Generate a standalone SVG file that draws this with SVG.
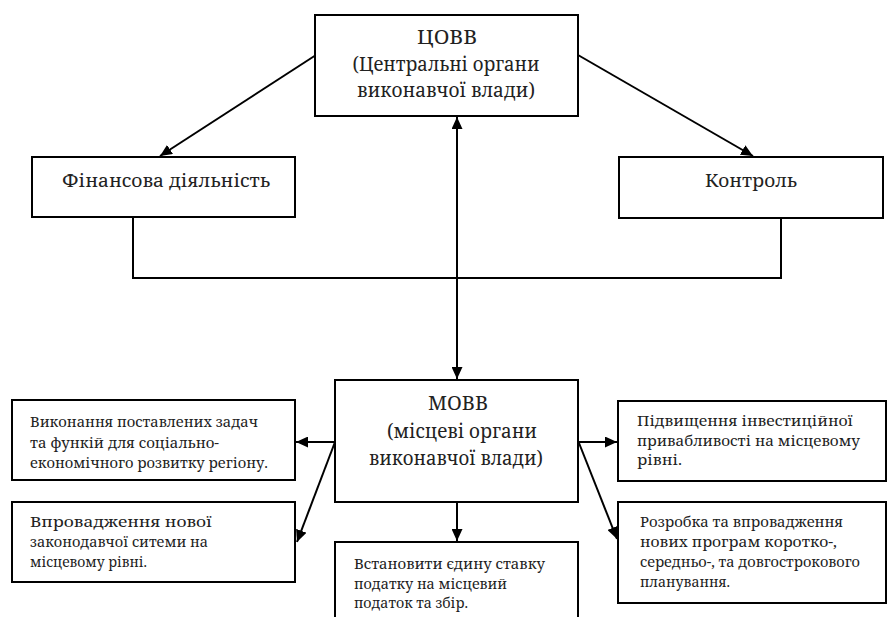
<svg xmlns="http://www.w3.org/2000/svg" width="888" height="617" viewBox="0 0 888 617">
<defs>
<marker id="ah" viewBox="0 0 12 11" refX="12" refY="5.5" markerWidth="12" markerHeight="11" orient="auto-start-reverse" markerUnits="userSpaceOnUse">
<path d="M0,0 L12,5.5 L0,11 z" fill="#000"/>
</marker>
</defs>
<rect width="888" height="617" fill="#fff"/>
<g id="connectors" fill="none" stroke="#000" stroke-width="2">
<line x1="316" y1="55" x2="160" y2="156" marker-end="url(#ah)"/>
<line x1="578" y1="55" x2="753" y2="156" marker-end="url(#ah)"/>
<polyline points="133,217 133,278 781,278 781,218"/>
<line x1="457" y1="117" x2="457" y2="379" marker-start="url(#ah)" marker-end="url(#ah)"/>
<polygon points="403,114 415,106 417,115" fill="#000" stroke="none"/>
<line x1="457" y1="502" x2="457" y2="541" marker-end="url(#ah)"/>
<line x1="335" y1="442" x2="296" y2="442" marker-end="url(#ah)"/>
<line x1="335" y1="442" x2="297" y2="542" marker-end="url(#ah)"/>
<line x1="578" y1="442" x2="617" y2="442" marker-end="url(#ah)"/>
<line x1="579" y1="443" x2="617" y2="539" marker-end="url(#ah)"/>
</g>
<g id="covv">
<rect x="315" y="15" width="263" height="101" fill="#fff" stroke="#000" stroke-width="2"/>
<text x="447" y="44" font-size="19" font-family="Noto Serif, DejaVu Serif, serif" fill="#222" text-anchor="middle" textLength="60" lengthAdjust="spacingAndGlyphs">ЦОВВ</text>
<text x="446" y="71" font-size="19" font-family="Noto Serif, DejaVu Serif, serif" fill="#222" text-anchor="middle" textLength="187" lengthAdjust="spacingAndGlyphs">(Центральні органи</text>
<text x="446" y="97" font-size="19" font-family="Noto Serif, DejaVu Serif, serif" fill="#222" text-anchor="middle" textLength="178" lengthAdjust="spacingAndGlyphs">виконавчої влади)</text>
</g>
<g id="fin">
<rect x="32" y="157" width="263" height="60" fill="#fff" stroke="#000" stroke-width="2"/>
<text x="166" y="187" font-size="18" font-family="Noto Serif, DejaVu Serif, serif" fill="#222" text-anchor="middle" textLength="208" lengthAdjust="spacingAndGlyphs">Фінансова діяльність</text>
</g>
<g id="kontrol">
<rect x="619" y="157" width="264" height="61" fill="#fff" stroke="#000" stroke-width="2"/>
<text x="751" y="187" font-size="18" font-family="Noto Serif, DejaVu Serif, serif" fill="#222" text-anchor="middle" textLength="92" lengthAdjust="spacingAndGlyphs">Контроль</text>
</g>
<g id="movv">
<rect x="335" y="380" width="243" height="122" fill="#fff" stroke="#000" stroke-width="2"/>
<text x="458" y="410" font-size="19" font-family="Noto Serif, DejaVu Serif, serif" fill="#222" text-anchor="middle" textLength="60" lengthAdjust="spacingAndGlyphs">МОВВ</text>
<text x="462" y="438" font-size="19" font-family="Noto Serif, DejaVu Serif, serif" fill="#222" text-anchor="middle" textLength="150" lengthAdjust="spacingAndGlyphs">(місцеві органи</text>
<text x="456" y="465" font-size="19" font-family="Noto Serif, DejaVu Serif, serif" fill="#222" text-anchor="middle" textLength="174" lengthAdjust="spacingAndGlyphs">виконавчої влади)</text>
</g>
<g id="b1">
<rect x="12" y="400" width="283" height="80" fill="#fff" stroke="#000" stroke-width="2"/>
<text x="30" y="427" font-size="15" font-family="Noto Serif, DejaVu Serif, serif" fill="#222" textLength="228" lengthAdjust="spacingAndGlyphs">Виконання поставлених задач</text>
<text x="30" y="448" font-size="15" font-family="Noto Serif, DejaVu Serif, serif" fill="#222" textLength="189" lengthAdjust="spacingAndGlyphs">та функій для соціально-</text>
<text x="30" y="468" font-size="15" font-family="Noto Serif, DejaVu Serif, serif" fill="#222" textLength="238" lengthAdjust="spacingAndGlyphs">економічного розвитку регіону.</text>
</g>
<g id="b2">
<rect x="12" y="502" width="283" height="80" fill="#fff" stroke="#000" stroke-width="2"/>
<text x="30" y="527" font-size="15" font-family="Noto Serif, DejaVu Serif, serif" fill="#222" textLength="182" lengthAdjust="spacingAndGlyphs">Впровадження нової</text>
<text x="30" y="547" font-size="15" font-family="Noto Serif, DejaVu Serif, serif" fill="#222" textLength="178" lengthAdjust="spacingAndGlyphs">законодавчої ситеми на</text>
<text x="30" y="567" font-size="15" font-family="Noto Serif, DejaVu Serif, serif" fill="#222" textLength="117" lengthAdjust="spacingAndGlyphs">місцевому рівні.</text>
</g>
<g id="b3">
<rect x="335" y="542" width="243" height="90" fill="#fff" stroke="#000" stroke-width="2"/>
<text x="354" y="569" font-size="15" font-family="Noto Serif, DejaVu Serif, serif" fill="#222" textLength="191" lengthAdjust="spacingAndGlyphs">Встановити єдину ставку</text>
<text x="354" y="589" font-size="15" font-family="Noto Serif, DejaVu Serif, serif" fill="#222" textLength="153" lengthAdjust="spacingAndGlyphs">податку на місцевий</text>
<text x="354" y="608" font-size="15" font-family="Noto Serif, DejaVu Serif, serif" fill="#222" textLength="114" lengthAdjust="spacingAndGlyphs">податок та збір.</text>
</g>
<g id="b4">
<rect x="618" y="401" width="268" height="80" fill="#fff" stroke="#000" stroke-width="2"/>
<text x="637" y="426" font-size="15" font-family="Noto Serif, DejaVu Serif, serif" fill="#222" textLength="216" lengthAdjust="spacingAndGlyphs">Підвищення інвестиційної</text>
<text x="637" y="446" font-size="15" font-family="Noto Serif, DejaVu Serif, serif" fill="#222" textLength="223" lengthAdjust="spacingAndGlyphs">привабливості на місцевому</text>
<text x="637" y="465" font-size="15" font-family="Noto Serif, DejaVu Serif, serif" fill="#222" textLength="45" lengthAdjust="spacingAndGlyphs">рівні.</text>
</g>
<g id="b5">
<rect x="618" y="502" width="268" height="101" fill="#fff" stroke="#000" stroke-width="2"/>
<text x="640" y="527" font-size="15" font-family="Noto Serif, DejaVu Serif, serif" fill="#222" textLength="203" lengthAdjust="spacingAndGlyphs">Розробка та впровадження</text>
<text x="640" y="547" font-size="15" font-family="Noto Serif, DejaVu Serif, serif" fill="#222" textLength="197" lengthAdjust="spacingAndGlyphs">нових програм коротко-,</text>
<text x="640" y="567" font-size="15" font-family="Noto Serif, DejaVu Serif, serif" fill="#222" textLength="220" lengthAdjust="spacingAndGlyphs">середньо-, та довгострокового</text>
<text x="640" y="587" font-size="15" font-family="Noto Serif, DejaVu Serif, serif" fill="#222" textLength="90" lengthAdjust="spacingAndGlyphs">планування.</text>
</g>
</svg>
